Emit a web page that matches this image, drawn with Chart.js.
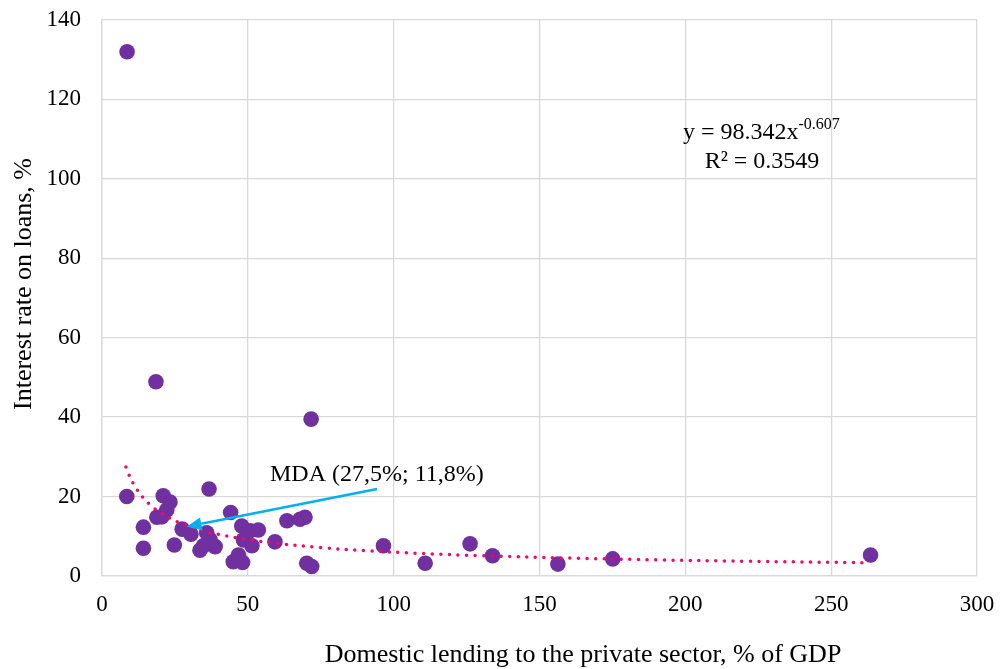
<!DOCTYPE html>
<html>
<head>
<meta charset="utf-8">
<script src="https://cdn.jsdelivr.net/npm/chart.js@4.4.1/dist/chart.umd.min.js"></script>
<style>
  html, body { margin: 0; padding: 0; background: #ffffff; }
  canvas { display: block; }
</style>
</head>
<body>
<canvas id="chart" width="1000" height="669"></canvas>
<script>
// Domestic lending to the private sector (% of GDP) per country
const lending = [
  8.6, 18.5, 71.7, 36.7, 8.5, 21.0, 23.3, 22.2, 18.8, 20.5,
  14.2, 14.2, 24.8, 27.5, 30.5, 35.9, 34.8, 33.6, 38.8, 37.0,
  44.1, 47.9, 50.8, 53.6, 51.4, 48.5, 46.8, 45.0, 48.2, 59.3,
  63.4, 67.9, 69.6, 70.2, 71.9, 96.5, 110.8, 126.2, 133.9, 156.3,
  175.1, 263.5
];
// Interest rate on loans (%) per country, same order
const loanRate = [
  132.0, 48.9, 39.5, 21.9, 20.0, 20.2, 18.6, 16.6, 14.8, 14.9,
  12.3, 7.0, 7.8, 11.8, 10.5, 10.9, 7.6, 6.5, 7.4, 9.2,
  16.0, 12.6, 11.4, 11.6, 7.6, 9.1, 5.3, 3.6, 3.4, 8.6,
  13.9, 14.3, 14.8, 3.2, 2.4, 7.6, 3.2, 8.1, 5.1, 3.0,
  4.3, 5.3
];

// Power trendline y = a * x^b, as stated in the equation label
const trendA = 98.342;
const trendB = -0.607;
const trendR2 = 0.3549;
const trendX = [8.2, 9, 10, 11, 12, 14, 16, 18, 20, 23, 26, 30, 35, 40, 50, 60, 75, 90, 110, 130, 160, 190, 220, 263.5];

// Highlighted country
const mdaLabel = 'MDA (27,5%; 11,8%)';

const xTicks = [0, 50, 100, 150, 200, 250, 300];
const yTicks = [0, 20, 40, 60, 80, 100, 120, 140];

const FONT = '"Liberation Serif", "Times New Roman", serif';

const scatterPoints = lending.map((x, i) => ({ x: x, y: loanRate[i] }));
const trendPoints = trendX.map(x => ({ x: x, y: trendA * Math.pow(x, trendB) }));

const annotations = {
  id: 'annotations',
  afterDatasetsDraw(chart) {
    const { ctx, scales: { x, y } } = chart;
    ctx.save();

    // arrow pointing at the MDA marker
    const x1 = x.getPixelForValue(94.3), y1 = y.getPixelForValue(21.9);
    const x2 = x.getPixelForValue(29.0), y2 = y.getPixelForValue(12.4);
    const ang = Math.atan2(y2 - y1, x2 - x1);
    const headLen = 15, headHalf = 6.5;
    const bx = x2 - headLen * Math.cos(ang), by = y2 - headLen * Math.sin(ang);
    ctx.strokeStyle = '#00B0F0';
    ctx.fillStyle = '#00B0F0';
    ctx.lineWidth = 2.5;
    ctx.beginPath();
    ctx.moveTo(x1, y1);
    ctx.lineTo(bx, by);
    ctx.stroke();
    ctx.beginPath();
    ctx.moveTo(x2, y2);
    ctx.lineTo(bx + headHalf * Math.sin(ang), by - headHalf * Math.cos(ang));
    ctx.lineTo(bx - headHalf * Math.sin(ang), by + headHalf * Math.cos(ang));
    ctx.closePath();
    ctx.fill();

    // label for the highlighted country
    ctx.fillStyle = '#000000';
    ctx.font = '24px ' + FONT;
    ctx.textAlign = 'left';
    ctx.textBaseline = 'alphabetic';
    ctx.fillText(mdaLabel, 270, 481);

    // trendline equation with superscript exponent
    const main = 'y = ' + trendA.toFixed(3) + 'x';
    ctx.font = '24px ' + FONT;
    ctx.fillText(main, 683, 139);
    const mw = ctx.measureText(main).width;
    ctx.font = '16px ' + FONT;
    ctx.fillText(trendB.toFixed(3), 683 + mw, 129);
    ctx.font = '24px ' + FONT;
    ctx.textAlign = 'center';
    ctx.fillText('R\u00B2 = ' + trendR2.toFixed(4), 762, 168);

    // axis titles
    ctx.font = '26px ' + FONT;
    ctx.fillText('Domestic lending to the private sector, % of GDP', 583, 662);
    ctx.save();
    ctx.translate(31, 284);
    ctx.rotate(-Math.PI / 2);
    ctx.fillText('Interest rate on loans, %', 0, 0);
    ctx.restore();

    ctx.restore();
  }
};

new Chart(document.getElementById('chart'), {
  type: 'scatter',
  data: {
    datasets: [
      {
        type: 'line',
        label: 'Trend',
        data: trendPoints,
        borderColor: '#FF0066',
        borderWidth: 3.5,
        borderDash: [0, 8.6],
        borderCapStyle: 'round',
        pointRadius: 0,
        fill: false,
        tension: 0.4,
        order: 0
      },
      {
        label: 'Countries',
        data: scatterPoints,
        backgroundColor: '#7030A0',
        borderColor: '#7030A0',
        borderWidth: 0,
        pointRadius: 7.8,
        pointHoverRadius: 7.8,
        order: 1
      }
    ]
  },
  options: {
    responsive: false,
    animation: false,
    devicePixelRatio: 1,
    events: [],
    layout: { padding: { top: 20, right: 23, left: 0, bottom: 0 } },
    plugins: {
      legend: { display: false },
      tooltip: { enabled: false }
    },
    scales: {
      x: {
        type: 'linear',
        min: 0,
        max: 300,
        afterBuildTicks(scale) { scale.ticks = xTicks.map(v => ({ value: v })); },
        afterFit(scale) {
          scale.height = 93;
          scale.paddingLeft = 0;
          scale.paddingRight = 0;
        },
        grid: { color: '#D9D9D9', lineWidth: 1.3, drawTicks: false },
        border: { color: '#D9D9D9', width: 1.3 },
        ticks: {
          color: '#000000',
          font: { family: FONT, size: 23 },
          padding: 15,
          maxRotation: 0
        }
      },
      y: {
        type: 'linear',
        min: 0,
        max: 140,
        afterBuildTicks(scale) { scale.ticks = yTicks.map(v => ({ value: v })); },
        afterFit(scale) {
          scale.width = 102;
          scale.paddingTop = 0;
          scale.paddingBottom = 0;
        },
        grid: { color: '#D9D9D9', lineWidth: 1.3, drawTicks: false },
        border: { color: '#D9D9D9', width: 1.3 },
        ticks: {
          color: '#000000',
          font: { family: FONT, size: 23 },
          padding: 21
        }
      }
    }
  },
  plugins: [annotations]
});
</script>
</body>
</html>
